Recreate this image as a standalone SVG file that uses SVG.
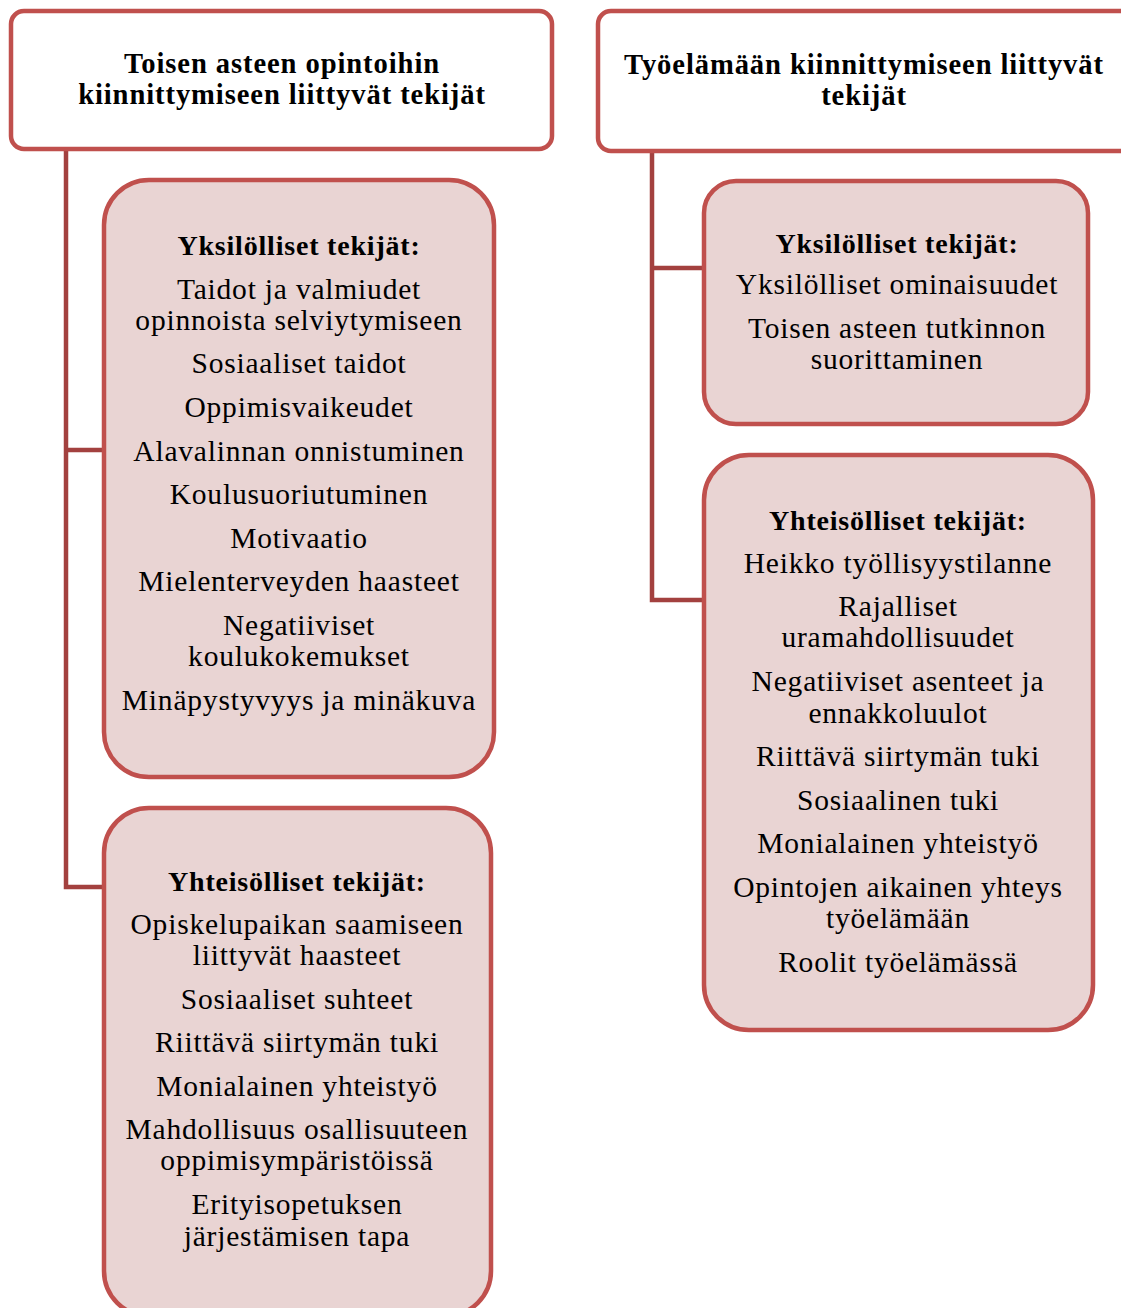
<svg xmlns="http://www.w3.org/2000/svg" width="1121" height="1308" viewBox="0 0 1121 1308">
<style>
.top{fill:#FFFFFF;stroke:#C0504D;stroke-width:4.5}
.sub{fill:#E9D4D3;stroke:#C0504D;stroke-width:4.5}
.conn{fill:none;stroke:#A3413F;stroke-width:4.5}
text{font-family:"Liberation Serif","Times New Roman",serif;fill:#000;text-anchor:middle}
.h{font-weight:bold;font-size:28px;letter-spacing:0.8px}
.tt{font-weight:bold;font-size:28.6px;letter-spacing:0.9px}
.t{font-size:29.5px;letter-spacing:0.8px}
</style>
<rect width="1121" height="1308" fill="#FFFFFF"/>
<g id="connectors">
<path class="conn" d="M66 149 V887 H106 M66 450 H106"/>
<path class="conn" d="M652 151 V600 H706 M652 268 H706"/>
</g>
<g id="left-title">
<rect class="top" x="11" y="11" width="541" height="138" rx="13"/>
<text class="tt" x="282" y="73">Toisen asteen opintoihin</text>
<text class="tt" x="282" y="104">kiinnittymiseen liittyvät tekijät</text>
</g>
<g id="right-title">
<rect class="top" x="598" y="11" width="540" height="140" rx="13"/>
<text class="tt" x="864" y="74">Työelämään kiinnittymiseen liittyvät</text>
<text class="tt" x="864" y="105">tekijät</text>
</g>
<g id="left-individual">
<rect class="sub" x="104" y="180" width="390" height="597" rx="45"/>
<text class="h" x="299" y="255">Yksilölliset tekijät:</text>
<text class="t" x="299" y="299">Taidot ja valmiudet</text>
<text class="t" x="299" y="330">opinnoista selviytymiseen</text>
<text class="t" x="299" y="373">Sosiaaliset taidot</text>
<text class="t" x="299" y="417">Oppimisvaikeudet</text>
<text class="t" x="299" y="461">Alavalinnan onnistuminen</text>
<text class="t" x="299" y="504">Koulusuoriutuminen</text>
<text class="t" x="299" y="548">Motivaatio</text>
<text class="t" x="299" y="591">Mielenterveyden haasteet</text>
<text class="t" x="299" y="635">Negatiiviset</text>
<text class="t" x="299" y="666">koulukokemukset</text>
<text class="t" x="299" y="710">Minäpystyvyys ja minäkuva</text>
</g>
<g id="left-communal">
<rect class="sub" x="104" y="808" width="387" height="508" rx="45"/>
<text class="h" x="297" y="891">Yhteisölliset tekijät:</text>
<text class="t" x="297" y="934">Opiskelupaikan saamiseen</text>
<text class="t" x="297" y="965">liittyvät haasteet</text>
<text class="t" x="297" y="1009">Sosiaaliset suhteet</text>
<text class="t" x="297" y="1052">Riittävä siirtymän tuki</text>
<text class="t" x="297" y="1096">Monialainen yhteistyö</text>
<text class="t" x="297" y="1139">Mahdollisuus osallisuuteen</text>
<text class="t" x="297" y="1170">oppimisympäristöissä</text>
<text class="t" x="297" y="1214">Erityisopetuksen</text>
<text class="t" x="297" y="1246">järjestämisen tapa</text>
</g>
<g id="right-individual">
<rect class="sub" x="704" y="181" width="384" height="243" rx="32"/>
<text class="h" x="897" y="253">Yksilölliset tekijät:</text>
<text class="t" x="897" y="294">Yksilölliset ominaisuudet</text>
<text class="t" x="897" y="338">Toisen asteen tutkinnon</text>
<text class="t" x="897" y="369">suorittaminen</text>
</g>
<g id="right-communal">
<rect class="sub" x="704" y="455" width="389" height="575" rx="45"/>
<text class="h" x="898" y="530">Yhteisölliset tekijät:</text>
<text class="t" x="898" y="573">Heikko työllisyystilanne</text>
<text class="t" x="898" y="616">Rajalliset</text>
<text class="t" x="898" y="647">uramahdollisuudet</text>
<text class="t" x="898" y="691">Negatiiviset asenteet ja</text>
<text class="t" x="898" y="723">ennakkoluulot</text>
<text class="t" x="898" y="766">Riittävä siirtymän tuki</text>
<text class="t" x="898" y="810">Sosiaalinen tuki</text>
<text class="t" x="898" y="853">Monialainen yhteistyö</text>
<text class="t" x="898" y="897">Opintojen aikainen yhteys</text>
<text class="t" x="898" y="928">työelämään</text>
<text class="t" x="898" y="972">Roolit työelämässä</text>
</g>
</svg>
